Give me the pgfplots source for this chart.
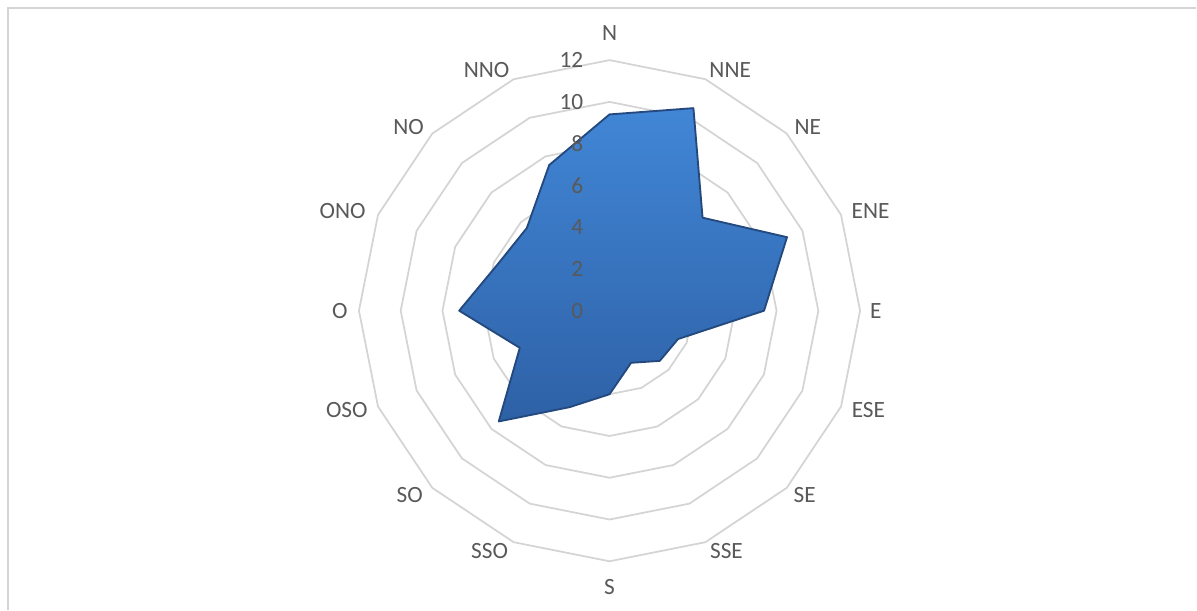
\documentclass[border=0pt]{standalone}
\usepackage{pgfplots}
\pgfplotsset{compat=1.18}
\usepackage{fontspec}
\setmainfont{Carlito}
\definecolor{gridc}{HTML}{D4D4D4}
\definecolor{txt}{HTML}{595959}
\definecolor{topc}{HTML}{4186D6}
\definecolor{botc}{HTML}{2E61A6}
\definecolor{edgec}{HTML}{24497E}
\tikzset{lbl/.style={font=\fontsize{17.5}{20}\selectfont, text=txt}}
\begin{document}
\begin{tikzpicture}
\begin{axis}[
  x=15.675pt, y=15.675pt,
  xmin=-29.19, xmax=28.09,
  ymin=-14.31, ymax=14.88,
  hide axis, clip=false,
]
\path[fill=white] (rel axis cs:0,0) rectangle (rel axis cs:1,1);
\draw[gridc, line width=1.4pt] (rel axis cs:0.0067,0) -- (rel axis cs:0.0067,0.987) -- (rel axis cs:1,0.987);
% gridlines
\pgfplotsinvokeforeach{2,4,6,8,10,12}{
\addplot[gridc, line width=1.3pt, data cs=polar, mark=none] coordinates {
(90,#1) (67.5,#1) (45,#1) (22.5,#1) (0,#1) (-22.5,#1) (-45,#1) (-67.5,#1) (-90,#1)
(-112.5,#1) (-135,#1) (-157.5,#1) (180,#1) (157.5,#1) (135,#1) (112.5,#1) (90,#1)};
}
% data
\addplot[data cs=polar, mark=none, draw=edgec, line width=1.4pt, line join=round,
  top color=topc, bottom color=botc] coordinates {
(90,9.4) (67.5,10.5) (45,6.3) (22.5,9.2) (0,7.4) (-22.5,3.55) (-45,3.4) (-67.5,2.7)
(-90,4.0) (-112.5,5.0) (-135,7.5) (-157.5,4.65) (180,7.2) (157.5,5.8) (135,5.6) (112.5,7.55)
} -- cycle;
% value labels
\pgfplotsinvokeforeach{0,2,4,6,8,10,12}{
  \node[lbl, anchor=east, inner sep=0pt] at (axis cs:-1.25,#1) {#1};
}
% category labels
\node[lbl] at (axis cs:0,13.3) {N};
\node[lbl] at (axis cs:5.78,11.53) {NNE};
\node[lbl] at (axis cs:9.5,8.8) {NE};
\node[lbl] at (axis cs:12.5,4.78) {ENE};
\node[lbl] at (axis cs:12.75,0) {E};
\node[lbl] at (axis cs:12.4,-4.74) {ESE};
\node[lbl] at (axis cs:9.35,-8.85) {SE};
\node[lbl] at (axis cs:5.6,-11.53) {SSE};
\node[lbl] at (axis cs:0,-13.21) {S};
\node[lbl] at (axis cs:-5.74,-11.53) {SSO};
\node[lbl] at (axis cs:-9.57,-8.85) {SO};
\node[lbl] at (axis cs:-12.58,-4.74) {OSO};
\node[lbl] at (axis cs:-12.92,0) {O};
\node[lbl] at (axis cs:-12.78,4.78) {ONO};
\node[lbl] at (axis cs:-9.62,8.8) {NO};
\node[lbl] at (axis cs:-5.89,11.53) {NNO};
\end{axis}
\end{tikzpicture}
\end{document}
